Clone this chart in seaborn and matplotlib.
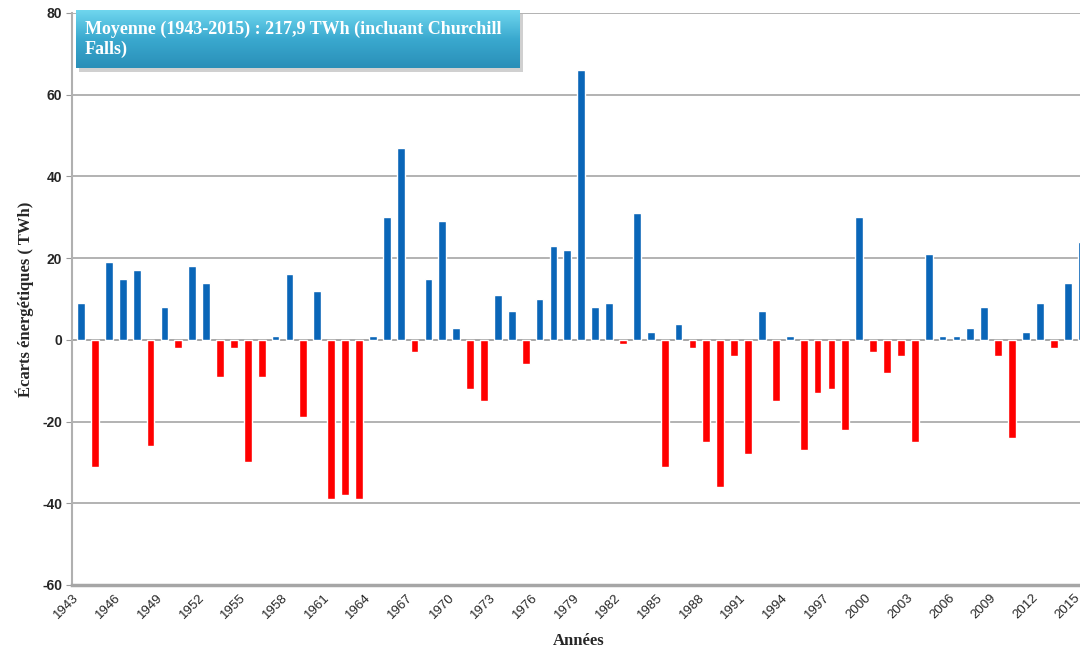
import numpy as np
import pandas as pd
import matplotlib
matplotlib.use("Agg")
import matplotlib.pyplot as plt
import matplotlib.transforms as mtransforms
import seaborn as sns
from matplotlib.patches import FancyBboxPatch
from matplotlib.colors import LinearSegmentedColormap

years = list(range(1943, 2016))
ecarts = [9, -31, 19, 15, 17, -26, 8, -2, 18, 14,
          -9, -2, -30, -9, 1, 16, -19, 12, -39, -38,
          -39, 1, 30, 47, -3, 15, 29, 3, -12, -15,
          11, 7, -6, 10, 23, 22, 66, 8, 9, -1,
          31, 2, -31, 4, -2, -25, -36, -4, -28, 7,
          -15, 1, -27, -13, -12, -22, 30, -3, -8, -4,
          -25, 21, 1, 1, 3, 8, -4, -24, 2, 9,
          -2, 14, 24]
tick_years = list(range(1943, 2016, 3))
y_ticks = [-60, -40, -20, 0, 20, 40, 60, 80]
note = "Moyenne (1943-2015) : 217,9 TWh (incluant Churchill\nFalls)"

df = pd.DataFrame({"annee": [str(y) for y in years], "ecart": ecarts})
df["signe"] = np.where(df["ecart"] >= 0, "pos", "neg")

sns.set_theme(style="white")
plt.rcParams['font.family'] = ['Liberation Sans', 'DejaVu Sans']

fig = plt.figure(figsize=(10.8, 6.56), dpi=100)
ax = fig.add_axes([72/1080, (656-585)/656, 1 - 72/1080 + 0.004, (585-13)/656])

sns.barplot(data=df, x="annee", y="ecart", hue="signe",
            palette={"pos": "#0a66b8", "neg": "#ff0000"}, saturation=1,
            dodge=False, legend=False, width=0.56, ax=ax, zorder=3)

ax.set_ylim(-60, 80)
ax.set_xlim(-0.65, 72.2)
ax.set_yticks(y_ticks)
ax.set_yticklabels([str(v) for v in y_ticks], fontweight="bold", fontsize=10)
idx = [years.index(y) for y in tick_years]
ax.set_xticks(idx)
ax.tick_params(axis="x", length=0, pad=5)
ax.tick_params(axis="y", length=4, width=0.8, color="#999999", left=True, pad=3)
ax.set_xticklabels([str(y) for y in tick_years], rotation=45, ha="right", va="top",
                   rotation_mode="anchor", fontsize=9.5)
offset = mtransforms.ScaledTranslation(-8/100, 0, fig.dpi_scale_trans)
for lab in ax.get_xticklabels():
    lab.set_transform(lab.get_transform() + offset)
ax.grid(axis="y", color="#a6a6a6", linewidth=1.2, zorder=0)
for s in ["top", "right"]:
    ax.spines[s].set_visible(False)
ax.spines["left"].set_color("#b0b0b0")
ax.spines["left"].set_linewidth(1.5)
ax.spines["bottom"].set_color("#a6a6a6")
ax.spines["bottom"].set_linewidth(2.5)
ax.axhline(0, color="#a6a6a6", linewidth=1.2, zorder=2)

ax.set_xlabel("Années", fontsize=12, fontweight="bold", family="Liberation Serif",
              labelpad=8)
ax.set_ylabel("Écarts énergétiques ( TWh)", fontsize=12, fontweight="bold",
              family="Liberation Serif", labelpad=6)

# note box with gradient
bx0, by0, bw, bh = 76/1080, (656-68)/656, (520-76)/1080, (68-10)/656
shadow = FancyBboxPatch((bx0 + 0.003, by0 - 0.006), bw, bh, boxstyle="square,pad=0",
                        transform=fig.transFigure, facecolor="#7a7a7a", alpha=0.35,
                        edgecolor="none", zorder=4)
fig.patches.append(shadow)
gax = fig.add_axes([bx0, by0, bw, bh], zorder=5)
grad = np.linspace(0, 1, 100).reshape(-1, 1)
cmap = LinearSegmentedColormap.from_list("g", ["#6fd6ee", "#3aa9cf", "#2a8fb8"])
gax.imshow(grad, aspect="auto", cmap=cmap, extent=[0, 1, 0, 1], origin="upper")
gax.set_xlim(0, 1)
gax.set_ylim(0, 1)
gax.axis("off")
gax.text(0.02, 0.82, note, ha="left", va="top", color="white", fontsize=13,
         fontweight="bold", family="Liberation Serif", linespacing=1.22)

fig.savefig("out.png", dpi=100)
